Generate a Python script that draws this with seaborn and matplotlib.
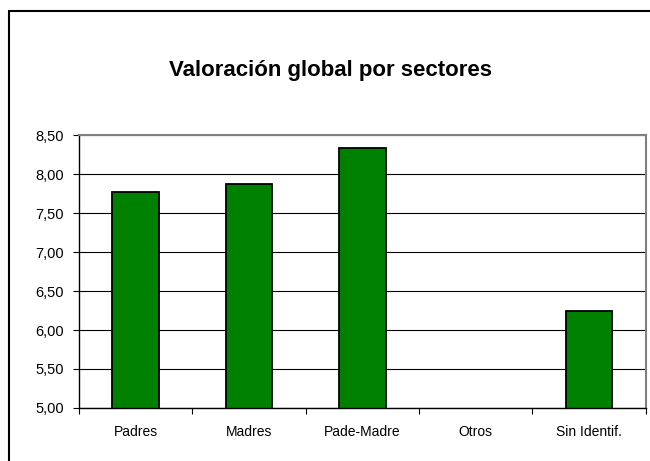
import pandas as pd
import matplotlib.pyplot as plt
import seaborn as sns
from matplotlib.patches import Rectangle

# Data
sectores = ["Padres", "Madres", "Pade-Madre", "Otros", "Sin Identif."]
valoracion = [7.77, 7.87, 8.33, 0.0, 6.25]
y_ticks = [5.0, 5.5, 6.0, 6.5, 7.0, 7.5, 8.0, 8.5]

df = pd.DataFrame({"Sector": sectores, "Valoracion": valoracion})

sns.set_style("white")
plt.rcParams["font.family"] = ["Liberation Sans", "DejaVu Sans"]
plt.rcParams["text.color"] = "black"
plt.rcParams["xtick.color"] = "black"
plt.rcParams["ytick.color"] = "black"

fig = plt.figure(figsize=(6.5, 4.61), dpi=100)
ax = fig.add_axes([0.1215, 0.115, 0.872, 0.592])

sns.barplot(data=df, x="Sector", y="Valoracion", color="#008000",
            edgecolor="black", linewidth=1.3, width=0.41, saturation=1, ax=ax)

ax.set_ylim(5, 8.5)
ax.set_xlim(-0.5, len(sectores) - 0.5)
ax.set_yticks(y_ticks)
ax.set_yticklabels([f"{v:.2f}".replace(".", ",") for v in y_ticks], fontsize=10.5)
ax.yaxis.grid(True, color="black", linewidth=0.8)
ax.set_axisbelow(True)

# category ticks between bars, like Excel
ax.set_xticks(range(len(sectores)))
ax.set_xticklabels(sectores, fontsize=10)
ax.tick_params(axis="x", which="major", length=0, pad=12)
ax.set_xticks([i - 0.5 for i in range(len(sectores) + 1)], minor=True)
ax.tick_params(axis="x", which="minor", bottom=True, length=4, color="black",
               width=0.8, direction="out")
ax.tick_params(axis="y", length=4, color="black", width=0.8, direction="out",
               pad=7, left=True)

ax.set_xlabel("")
ax.set_ylabel("")

for side in ["left", "bottom"]:
    ax.spines[side].set_color("black")
    ax.spines[side].set_linewidth(1.0)
for side in ["top", "right"]:
    ax.spines[side].set_visible(True)
    ax.spines[side].set_color("#808080")
    ax.spines[side].set_linewidth(1.5)

fig.text(0.508, 0.848, "Valoración global por sectores", ha="center", va="center",
         fontsize=16, fontweight="bold")

# outer chart border
fig.patches.append(Rectangle((9 / 650, -0.05), 1.0, 1 - 11 / 461 + 0.05,
                             transform=fig.transFigure, fill=False,
                             edgecolor="black", linewidth=1.5))

fig.savefig("out.png", dpi=100)
